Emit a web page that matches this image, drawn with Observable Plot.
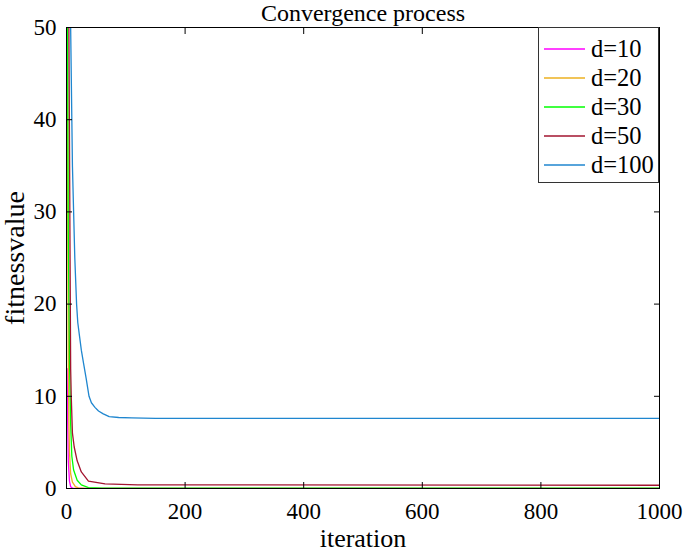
<!DOCTYPE html>
<html>
<head>
<meta charset="utf-8">
<script src="https://cdn.jsdelivr.net/npm/d3@7"></script>
<script src="https://cdn.jsdelivr.net/npm/@observablehq/plot@0.6"></script>
<style>
  html, body { margin: 0; padding: 0; background: #fff; }
  #wrap { position: relative; width: 685px; height: 554px; font-family: "Liberation Serif", "Times New Roman", serif; }
  #legend { position: absolute; left: 538px; top: 27px; width: 121px; height: 156px; border: 1px solid #333; background: #fff; box-sizing: border-box; }
  .row { position: absolute; left: 0; height: 29px; display: flex; align-items: center; font-family: "Liberation Serif", "Times New Roman", serif; font-size: 24.5px; color: #000; }
  .row svg { margin-left: 5px; margin-right: 6px; }
</style>
</head>
<body>
<div id="wrap"></div>
<script>
const titleText = "Convergence process";
const xLabel = "iteration";
const yLabel = "fitnessvalue";
const xTicks = [0, 200, 400, 600, 800, 1000];
const yTicks = [0, 10, 20, 30, 40, 50];

const seriesNames = ["d=10", "d=20", "d=30", "d=50", "d=100"];
const seriesColors = ["#ff00ff", "#edb120", "#00ff00", "#a2142f", "#1f86cf"];

const iterD10 = [1, 2, 3, 5, 7, 10, 15, 1000];
const valD10 = [13, 7, 3, 0.8, 0.2, 0.05, 0.01, 0.0];

const iterD20 = [1, 2, 3, 4, 5, 7, 10, 15, 20, 30, 1000];
const valD20 = [60, 30, 14, 7.4, 4, 1.6, 0.7, 0.2, 0.06, 0.02, 0.01];

const iterD30 = [1, 2, 3, 5, 7, 9, 12, 18, 25, 37, 60, 1000];
const valD30 = [60, 45, 28, 14, 7, 3.5, 2, 0.9, 0.4, 0.1, 0.05, 0.04];

const iterD50 = [1, 2, 4, 5, 6, 7, 8, 10, 13, 18, 25, 37, 65, 120, 1000];
const valD50 = [75, 62, 50, 38, 25, 13, 10, 6, 4.5, 3, 1.8, 0.8, 0.5, 0.4, 0.35];

const iterD100 = [1, 3, 5, 7, 9, 10, 12, 14, 17, 19, 22, 25, 29, 33, 38, 42, 48, 54, 62, 72, 88, 110, 150, 1000];
const valD100 = [95, 75, 60, 50, 40, 35, 30, 25, 20, 18, 16.5, 15, 13.5, 12, 10, 9.3, 8.8, 8.4, 8.1, 7.8, 7.7, 7.65, 7.6, 7.6];

const iterAll = [iterD10, iterD20, iterD30, iterD50, iterD100];
const valAll = [valD10, valD20, valD30, valD50, valD100];

const rows = [];
seriesNames.forEach((name, k) => {
  iterAll[k].forEach((it, i) => rows.push({series: name, iter: it, value: valAll[k][i]}));
});

const font = "Liberation Serif, Times New Roman, serif";

const chart = Plot.plot({
  width: 685,
  height: 554,
  marginTop: 27,
  marginRight: 26,
  marginBottom: 66,
  marginLeft: 66,
  style: {fontFamily: font, fontSize: "23px", color: "#000", background: "#fff"},
  x: {domain: [0, 1000], ticks: xTicks},
  y: {domain: [0, 50], ticks: yTicks},
  color: {domain: seriesNames, range: seriesColors},
  marks: [
    Plot.line(rows, {x: "iter", y: "value", z: "series", stroke: "series", strokeWidth: 1.3, clip: true}),
    Plot.frame({stroke: "#000", strokeWidth: 1}),
    Plot.axisX({anchor: "bottom", ticks: xTicks, tickSize: -6, tickPadding: 20, tickFormat: "d", label: null, fontSize: 23}),
    Plot.axisX({anchor: "top", ticks: xTicks, tickSize: -6, tickFormat: () => "", label: null}),
    Plot.axisY({anchor: "left", ticks: yTicks, tickSize: -6, tickPadding: 16, label: null, fontSize: 23}),
    Plot.axisY({anchor: "right", ticks: yTicks, tickSize: -6, tickFormat: () => "", label: null}),
    Plot.text([titleText], {frameAnchor: "top", lineAnchor: "middle", textAnchor: "middle", dy: -14, fontSize: 24, fill: "#000"}),
    Plot.text([xLabel], {frameAnchor: "bottom", lineAnchor: "middle", textAnchor: "middle", dy: 50, fontSize: 26, fill: "#000"}),
    Plot.text([yLabel], {frameAnchor: "left", lineAnchor: "middle", textAnchor: "middle", dx: -51, rotate: -90, fontSize: 28, fill: "#000"})
  ]
});

const wrap = document.getElementById("wrap");
wrap.appendChild(chart);

const legend = document.createElement("div");
legend.id = "legend";
seriesNames.forEach((name, k) => {
  const row = document.createElement("div");
  row.className = "row";
  row.style.top = (6 + k * 29) + "px";
  row.innerHTML = `<svg width="41" height="4"><line x1="0" x2="41" y1="2" y2="2" stroke="${seriesColors[k]}" stroke-width="1.3"/></svg><span>${name}</span>`;
  legend.appendChild(row);
});
wrap.appendChild(legend);
</script>
</body>
</html>
